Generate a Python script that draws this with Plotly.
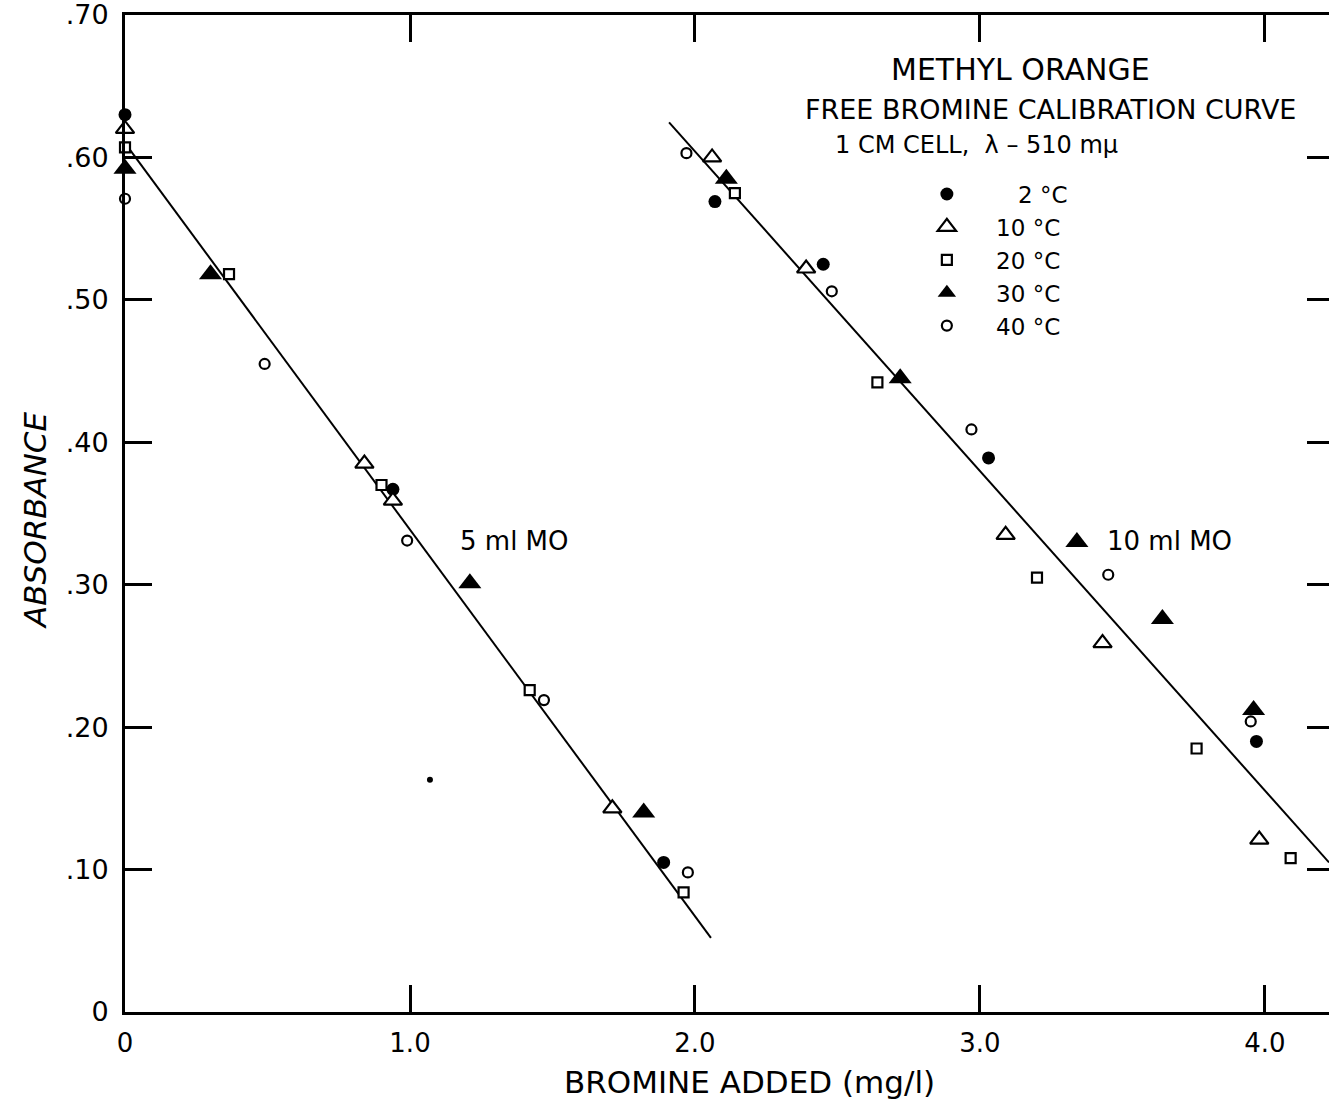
import plotly.graph_objects as go

# ---- data ----
x_2c = [0.0, 0.94, 1.89, 2.07, 2.45, 3.03, 3.97]
y_2c = [0.630, 0.367, 0.105, 0.569, 0.525, 0.389, 0.190]

x_10c = [0.0, 0.84, 0.94, 1.71, 2.06, 2.39, 3.09, 3.43, 3.98]
y_10c = [0.620, 0.385, 0.359, 0.143, 0.600, 0.522, 0.335, 0.259, 0.121]

x_20c = [0.0, 0.365, 0.90, 1.42, 1.96, 2.14, 2.64, 3.20, 3.76, 4.09]
y_20c = [0.607, 0.518, 0.370, 0.226, 0.084, 0.575, 0.442, 0.305, 0.185, 0.108]

x_30c = [0.0, 0.30, 1.21, 1.82, 2.11, 2.72, 3.34, 3.64, 3.96]
y_30c = [0.592, 0.518, 0.301, 0.140, 0.585, 0.445, 0.330, 0.276, 0.212]

x_40c = [0.0, 0.49, 0.99, 1.47, 1.975, 1.97, 2.48, 2.97, 3.45, 3.95]
y_40c = [0.571, 0.455, 0.331, 0.219, 0.098, 0.603, 0.506, 0.409, 0.307, 0.204]

x_stray = [1.07]
y_stray = [0.163]

# fitted calibration lines (end points)
x_fit5 = [0.015, 2.056]
y_fit5 = [0.606, 0.052]
x_fit10 = [1.909, 4.2246]
y_fit10 = [0.6246, 0.105]

x_ticks = [0, 1, 2, 3, 4]
x_ticktext = ["0", "1.0", "2.0", "3.0", "4.0"]
y_ticks = [0, 0.1, 0.2, 0.3, 0.4, 0.5, 0.6, 0.7]
y_ticktext = ["0", ".10", ".20", ".30", ".40", ".50", ".60", ".70"]
y_right_ticks = [0.1, 0.2, 0.3, 0.4, 0.5, 0.6]

FONT = "DejaVu Sans"
fig = go.Figure()

for xs, ys in [(x_fit5, y_fit5), (x_fit10, y_fit10)]:
    fig.add_trace(go.Scatter(x=xs, y=ys, mode="lines", line=dict(color="black", width=2),
                             showlegend=False, hoverinfo="skip", cliponaxis=False))

fig.add_trace(go.Scatter(x=x_stray, y=y_stray, mode="markers", showlegend=False,
                         marker=dict(symbol="circle", size=6, color="black"), cliponaxis=False))

series = [
    ("\u2007 2 °C", x_2c, y_2c, dict(symbol="circle", size=13, color="black", line=dict(width=0))),
    ("10 °C", x_10c, y_10c, dict(symbol="triangle-up", size=16, color="white", line=dict(color="black", width=2.2))),
    ("20 °C", x_20c, y_20c, dict(symbol="square", size=10, color="white", line=dict(color="black", width=2.2))),
    ("30 °C", x_30c, y_30c, dict(symbol="triangle-up", size=20, color="black", line=dict(width=0))),
    ("40 °C", x_40c, y_40c, dict(symbol="circle", size=10, color="white", line=dict(color="black", width=2.2))),
]
for name, xs, ys, mk in series:
    fig.add_trace(go.Scatter(x=xs, y=ys, mode="markers", name="\u00a0\u00a0\u00a0\u00a0" + name,
                             marker=mk, cliponaxis=False))

# dummy trace to activate right-hand tick axis
fig.add_trace(go.Scatter(x=[None], y=[None], yaxis="y2", showlegend=False, hoverinfo="skip"))

fig.update_layout(
    width=1329, height=1105,
    margin=dict(l=125, r=0, t=15, b=93, autoexpand=False),
    plot_bgcolor="white", paper_bgcolor="white",
    font=dict(family=FONT, color="black", size=24),
    xaxis=dict(range=[0, 4.2246], tickvals=x_ticks, ticktext=x_ticktext, automargin=False,
               ticks="inside", ticklen=27, tickwidth=2.5, tickcolor="black",
               showline=True, linewidth=3, linecolor="black", mirror="ticks",
               showgrid=False, zeroline=False, tickfont=dict(size=26), ticklabelstandoff=6,
               ticklabeloverflow="allow"),
    yaxis=dict(range=[0, 0.70], tickvals=y_ticks, ticktext=y_ticktext, automargin=False,
               ticks="inside", ticklen=27, tickwidth=2.5, tickcolor="black",
               showline=True, linewidth=3, linecolor="black",
               showgrid=False, zeroline=False, tickfont=dict(size=27), ticklabelstandoff=8,
               ticklabeloverflow="allow"),
    yaxis2=dict(range=[0, 0.70], overlaying="y", side="right", anchor="x", automargin=False,
                tickvals=y_right_ticks, ticks="inside", ticklen=22, tickwidth=2.5, tickcolor="black",
                showticklabels=False, showline=False, showgrid=False, zeroline=False),
    legend=dict(x=0.666, y=0.842, xanchor="left", yanchor="top", bgcolor="rgba(0,0,0,0)",
                font=dict(size=23), itemsizing="trace", tracegroupgap=0),
    showlegend=True,
)

ann = [
    dict(text="METHYL ORANGE", x=0.744, y=0.945, size=30),
    dict(text="FREE BROMINE CALIBRATION CURVE", x=0.769, y=0.905, size=27),
]
for a in ann:
    fig.add_annotation(text=a["text"], x=a["x"], y=a["y"], xref="paper", yref="paper",
                       showarrow=False, xanchor="center", yanchor="middle",
                       font=dict(size=a["size"], family=FONT))
fig.add_annotation(text="1 CM CELL,  λ – 510 mμ", x=0.588, y=0.870, xref="paper", yref="paper",
                   showarrow=False, xanchor="left", yanchor="middle", font=dict(size=24, family=FONT))
fig.add_annotation(text="5 ml MO", x=1.168, y=0.331, showarrow=False, xanchor="left",
                   yanchor="middle", font=dict(size=26, family=FONT))
fig.add_annotation(text="10 ml MO", x=3.439, y=0.331, showarrow=False, xanchor="left",
                   yanchor="middle", font=dict(size=26, family=FONT))
fig.add_annotation(text="<i>ABSORBANCE</i>", x=-0.0748, y=0.4935, xref="paper", yref="paper",
                   showarrow=False, textangle=-90, xanchor="center", yanchor="middle",
                   font=dict(size=31, family=FONT))
fig.add_annotation(text="BROMINE ADDED (mg/l)", x=0.519, y=-0.0702, xref="paper", yref="paper",
                   showarrow=False, xanchor="center", yanchor="middle", font=dict(size=31, family=FONT))

fig.write_html("out.html", config={"displayModeBar": False},
               post_script="document.body.style.margin='0';document.body.style.overflow='hidden';")
